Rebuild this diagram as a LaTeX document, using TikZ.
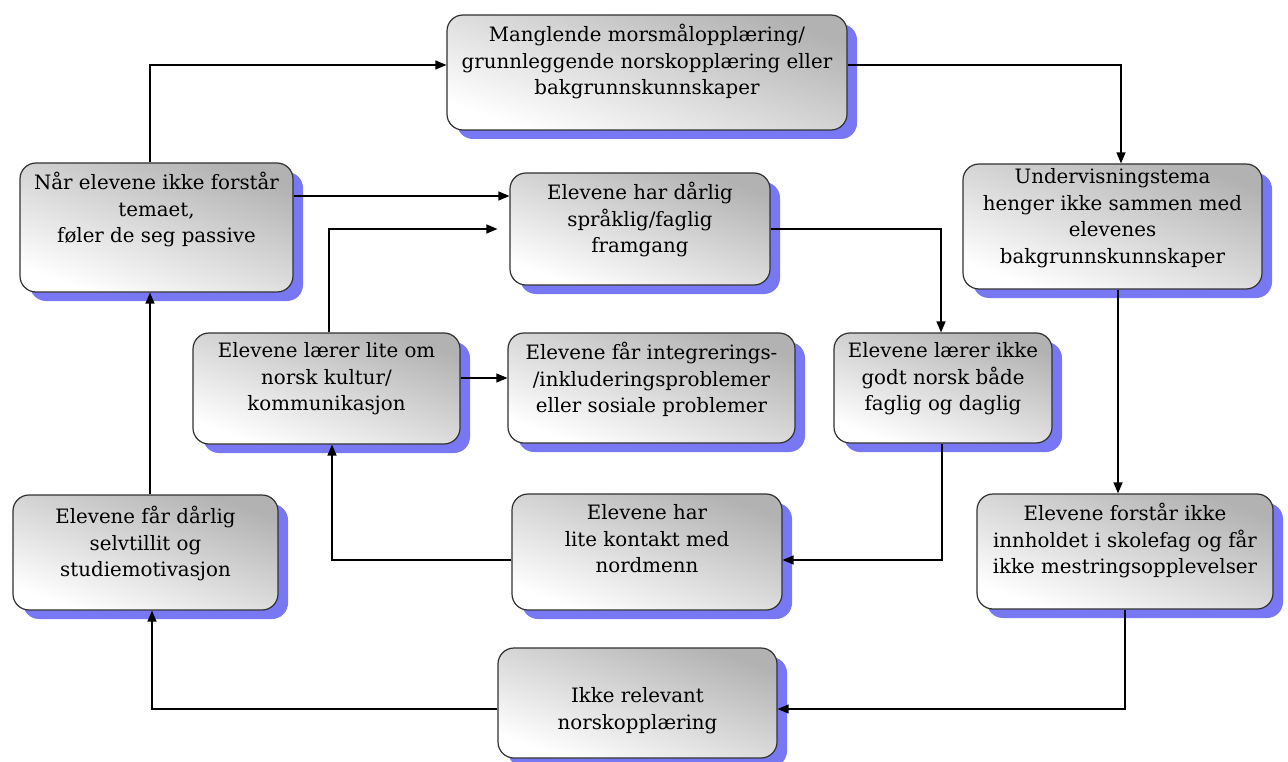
\documentclass[tikz,border=0pt]{standalone}
\usepackage{fontspec}
\setmainfont{DejaVu Serif}
\usetikzlibrary{arrows.meta,shadows,calc}
\definecolor{shadowblue}{RGB}{120,120,244}
\definecolor{boxgray}{RGB}{178,178,178}
\definecolor{edgegray}{RGB}{50,50,50}
\tikzset{
  box/.style={rounded corners=16pt, draw=edgegray, line width=1.2pt,
    top color=boxgray, bottom color=white, shading angle=-20,
    drop shadow={shadow xshift=10pt, shadow yshift=-9pt, fill=shadowblue, opacity=1},
    inner sep=0pt},
  txt/.style={align=center, font=\fontsize{19.8}{26.5}\selectfont, inner sep=0pt, anchor=north},
  arr/.style={line width=1.3pt, -{Triangle[length=11pt,width=9pt]}},
}
\begin{document}
\begin{tikzpicture}[x=1pt,y=-1pt]
\useasboundingbox[fill=white] (0,0) rectangle (1288,762);
% boxes
\node[box, minimum width=400pt, minimum height=115pt] (b1) at (647,72.5) {};
\node[box, minimum width=273pt, minimum height=129pt] (b2) at (156.5,227.5) {};
\node[box, minimum width=260pt, minimum height=112pt] (b3) at (640,229) {};
\node[box, minimum width=299pt, minimum height=125pt] (b4) at (1112.5,226.5) {};
\node[box, minimum width=267pt, minimum height=111pt] (b5) at (326.5,388.5) {};
\node[box, minimum width=287pt, minimum height=110pt] (b6) at (651.5,388) {};
\node[box, minimum width=218pt, minimum height=110pt] (b7) at (943,388) {};
\node[box, minimum width=265pt, minimum height=115pt] (b8) at (145.5,552.5) {};
\node[box, minimum width=270pt, minimum height=116pt] (b9) at (647,552) {};
\node[box, minimum width=296pt, minimum height=115pt] (b10) at (1125,551.5) {};
\node[box, minimum width=279pt, minimum height=110pt] (b11) at (637.5,703) {};
% texts
\node[txt] (t1) at ([yshift=-10pt]b1.north) {Manglende morsmålopplæring/\\grunnleggende norskopplæring eller\\bakgrunnskunnskaper};
\node[txt] (t2) at ([yshift=-10pt]b2.north) {Når elevene ikke forstår\\temaet,\\føler de seg passive};
\node[txt] (t3) at ([yshift=-10pt]b3.north) {Elevene har dårlig\\språklig/faglig\\framgang};
\node[txt] (t4) at ([yshift=-5pt]b4.north) {Undervisningstema\\henger ikke sammen med\\elevenes\\bakgrunnskunnskaper};
\node[txt] (t5) at ([yshift=-10pt]b5.north) {Elevene lærer lite om\\norsk kultur/\\kommunikasjon};
\node[txt] (t6) at ([yshift=-10pt]b6.north) {Elevene får integrerings-\\/inkluderingsproblemer\\eller sosiale problemer};
\node[txt] (t7) at ([yshift=-10pt]b7.north) {Elevene lærer ikke\\godt norsk både\\faglig og daglig};
\node[txt] (t8) at ([yshift=-12pt]b8.north) {Elevene får dårlig\\selvtillit og\\studiemotivasjon};
\node[txt] (t9) at ([yshift=-11pt]b9.north) {Elevene har\\lite kontakt med\\nordmenn};
\node[txt] (t10) at ([yshift=-10pt]b10.north) {Elevene forstår ikke\\innholdet i skolefag og får\\ikke mestringsopplevelser};
\node[txt] (t11) at ([yshift=-40pt]b11.north) {Ikke relevant\\norskopplæring};
% turning points
\coordinate (k1) at (150,65);
\coordinate (k2) at (1121,65);
\coordinate (k3) at (0,196);
\coordinate (k4) at (329,229);
\coordinate (k5) at (941,229);
\coordinate (k6) at (1118,0);
\coordinate (k7) at (0,378);
\coordinate (k8) at (942,560);
\coordinate (k9) at (332,560);
\coordinate (k10) at (1125,709);
\coordinate (k11) at (152,709);
\coordinate (k12) at (150,0);
% connectors
\draw[arr] (b2.north -| k1) |- (b1.west |- k1);
\draw[arr] (b1.east |- k2) -| (b4.north -| k2);
\draw[arr] (b2.east |- k3) -- (b3.west |- k3);
\draw[arr] (b5.north -| k4) |- ($(b3.west |- k4)+(-12,0)$);
\draw[arr] (b3.east |- k5) -| (b7.north -| k5);
\draw[arr] (b4.south -| k6) -- (b10.north -| k6);
\draw[arr] (b5.east |- k7) -- (b6.west |- k7);
\draw[arr] (b7.south -| k8) |- (b9.east |- k8);
\draw[arr] (b9.west |- k9) -| (b5.south -| k9);
\draw[arr] (b10.south -| k10) |- (b11.east |- k10);
\draw[arr] (b11.west |- k11) -| (b8.south -| k11);
\draw[arr] (b8.north -| k12) -- (b2.south -| k12);
\end{tikzpicture}
\end{document}
